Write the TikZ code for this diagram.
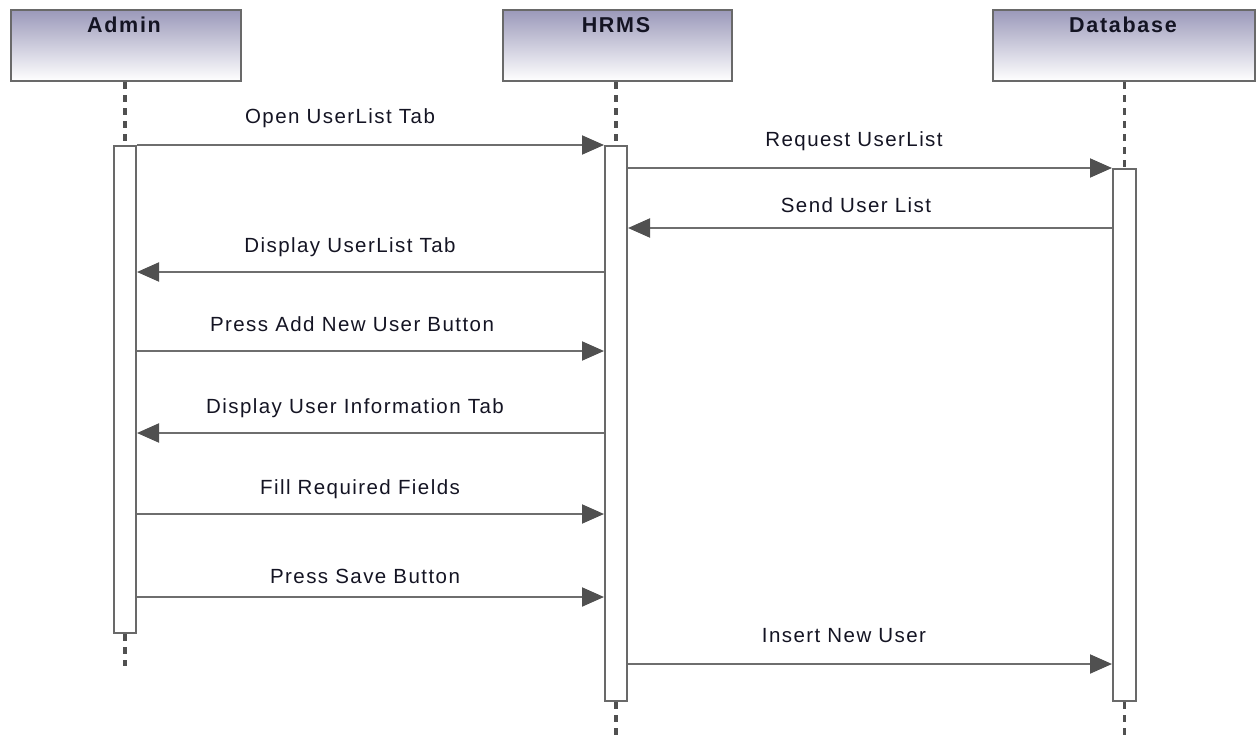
\documentclass[tikz,border=0pt]{standalone}
\usepackage{fontspec}
\setmainfont{Liberation Sans}
\newfontfamily\lblfont{Liberation Sans}[LetterSpace=7]
\newfontfamily\hdrfont{Liberation Sans}[LetterSpace=8,BoldFont={Liberation Sans Bold}]
\usetikzlibrary{arrows.meta}
\definecolor{hdrtop}{RGB}{155,153,186}
\definecolor{edgegray}{RGB}{105,105,105}
\definecolor{msggray}{RGB}{110,110,110}
\definecolor{tipgray}{RGB}{80,80,80}
\definecolor{lifegray}{RGB}{80,80,80}
\definecolor{txt}{RGB}{20,20,35}
\tikzset{
  x=1pt, y=-1pt,
  actor/.style={draw=edgegray, line width=2pt, top color=hdrtop, bottom color=white, inner sep=0pt, anchor=north west},
  hdrtext/.style={anchor=base, text=txt, font=\hdrfont\bfseries\fontsize{21.5}{24}\selectfont, inner sep=0pt},
  actbox/.style={draw=edgegray, line width=2pt, fill=white, inner sep=0pt, anchor=north west},
  lifeline/.style={draw=lifegray, line width=3.5pt, dash pattern=on 7pt off 6pt},
  msg/.style={draw=msggray, line width=2pt, -{Triangle[length=22pt,width=19pt,fill=tipgray,color=tipgray]}},
  lbl/.style={anchor=base, text=txt, font=\lblfont\fontsize{20.5}{24}\selectfont, inner sep=0pt},
}
\begin{document}
\begin{tikzpicture}
\useasboundingbox (0,0) rectangle (1258,736);
% actor boxes
\node[actor, minimum width=230pt, minimum height=71pt] (admin) at (10,9) {};
\node[actor, minimum width=229pt, minimum height=71pt] (hrms) at (502,9) {};
\node[actor, minimum width=262pt, minimum height=71pt] (db) at (992,9) {};
\node[hdrtext] (adminT) at (124,32) {Admin};
\node[hdrtext] (hrmsT) at (616,32) {HRMS};
\node[hdrtext] (dbT) at (1123,32) {Database};
% activation boxes
\node[actbox, minimum width=22pt, minimum height=487pt] (aA) at (113,145) {};
\node[actbox, minimum width=22pt, minimum height=555pt] (aH) at (604,145) {};
\node[actbox, minimum width=23pt, minimum height=532pt] (aD) at (1112,168) {};
\coordinate (endA) at (aA.south |- 0,666);
\coordinate (endH) at (aH.south |- 0,736);
\coordinate (endD) at (aD.south |- 0,736);
% lifelines
\draw[lifeline] (admin.south -| aA.north) -- (aA.north);
\draw[lifeline] (hrms.south -| aH.north) -- (aH.north);
\draw[lifeline] (db.south -| aD.north) -- (aD.north);
\draw[lifeline] (aA.south) -- (endA);
\draw[lifeline] (aH.south) -- (endH);
\draw[lifeline] (aD.south) -- (endD);
% messages
\draw[msg] (aA.east |- 0,145) -- (aH.west |- 0,145);
\draw[msg] (aH.east |- 0,168) -- (aD.west |- 0,168);
\draw[msg] (aD.west |- 0,228) -- (aH.east |- 0,228);
\draw[msg] (aH.west |- 0,272) -- (aA.east |- 0,272);
\draw[msg] (aA.east |- 0,351) -- (aH.west |- 0,351);
\draw[msg] (aH.west |- 0,433) -- (aA.east |- 0,433);
\draw[msg] (aA.east |- 0,514) -- (aH.west |- 0,514);
\draw[msg] (aA.east |- 0,597) -- (aH.west |- 0,597);
\draw[msg] (aH.east |- 0,664) -- (aD.west |- 0,664);
% labels
\node[lbl] (m1) at (340,123) {Open UserList Tab};
\node[lbl] (m2) at (854,146) {Request UserList};
\node[lbl] (m3) at (856,212) {Send User List};
\node[lbl] (m4) at (350,252) {Display UserList Tab};
\node[lbl] (m5) at (352,331) {Press Add New User Button};
\node[lbl] (m6) at (355,413) {Display User Information Tab};
\node[lbl] (m7) at (360,494) {Fill Required Fields};
\node[lbl] (m8) at (365,583) {Press Save Button};
\node[lbl] (m9) at (844,642) {Insert New User};
\end{tikzpicture}
\end{document}
